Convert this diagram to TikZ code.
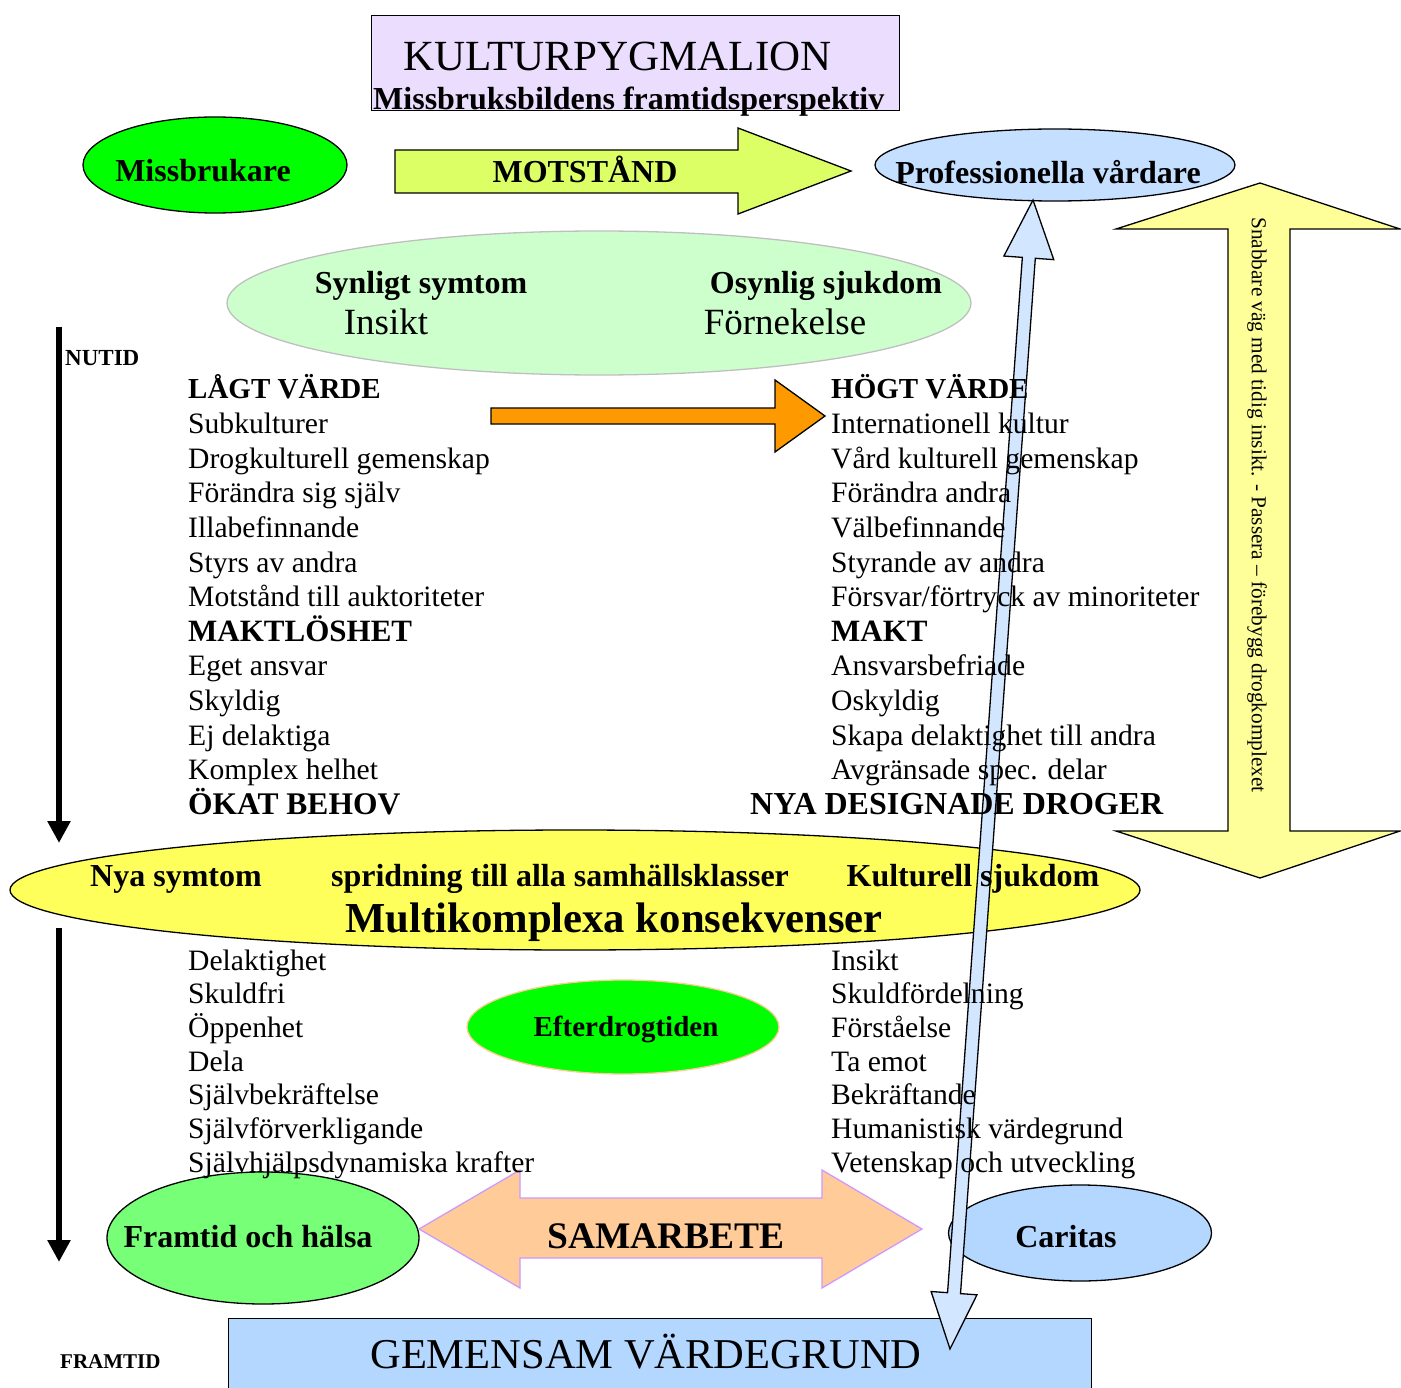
\documentclass[tikz,border=0pt]{standalone}
\usepackage{fontspec}
\setmainfont{Liberation Serif}
\usepackage{tikz}
\usetikzlibrary{
shapes.geometric,
arrows.meta,
calc,
positioning
}
\newcommand{\fsz}[1]{\fontsize{#1}{#1}\selectfont}
\definecolor{titel}{HTML}{EADDFE}
\definecolor{gron}{HTML}{00FF00}
\definecolor{ljusgron}{HTML}{77FF77}
\definecolor{motst}{HTML}{DDFF66}
\definecolor{prof}{HTML}{C4DFFF}
\definecolor{synl}{HTML}{CCFFCC}
\definecolor{orange}{HTML}{FF9900}
\definecolor{gulpil}{HTML}{FFFF99}
\definecolor{gulell}{HTML}{FFFF5C}
\definecolor{persika}{HTML}{FFCC99}
\definecolor{lila}{HTML}{CC99FF}
\definecolor{caritas}{HTML}{B3D7FF}
\definecolor{tunn}{HTML}{D3E6FF}
\tikzset{
  blob/.style={ellipse, draw=black, line width=1.3pt, inner sep=0pt},
  pil/.style={draw=black, line width=1.3pt, line join=miter},
  lbl/.style={anchor=base, inner sep=0pt, font=\bfseries\fsz{32}},
  item/.style={anchor=base west, inner sep=0pt, font=\fsz{29.6}},
  tid/.style={line width=6pt, -{Triangle[width=22pt,length=22pt]}}
}

\begin{document}
\begin{tikzpicture}[x=1pt,y=-1pt]
   \useasboundingbox (0,0) rectangle (1401,1388);

   % rubrik
   \node[draw, fill=titel, line width=1.3pt, anchor=north west,
         minimum width=528pt, minimum height=95pt] (titel) at (371,15) {};

   % ellipser
   \node[blob, fill=gron, minimum width=264pt, minimum height=96pt] (miss) at (215,165) {};
   \node[blob, fill=prof, minimum width=360pt, minimum height=72pt] (prof) at (1055,165) {};
   \node[blob, fill=synl, draw=black!25, minimum width=744pt, minimum height=144pt] (synl) at (599,303) {};
   \node[blob, fill=gulell, minimum width=1130pt, minimum height=120pt] (multi) at (575,890) {};
   \node[blob, fill=gron, draw=persika, minimum width=312pt, minimum height=94pt] (efter) at (623,1027) {};
   \node[blob, fill=ljusgron, minimum width=312pt, minimum height=132pt] (framt) at (263,1238) {};
   \node[blob, fill=caritas, minimum width=263pt, minimum height=96pt] (carit) at (1080,1233) {};
   \node[draw, fill=caritas, line width=1.3pt, anchor=north west,
         minimum width=863pt, minimum height=90pt] (gem) at (228,1318) {};

   % blockpilar
   \draw[pil, fill=motst] (395,150) -- (738,150) -- (738,128) -- (851,171)
        -- (738,214) -- (738,193) -- (395,193) -- cycle;
   \draw[pil, fill=orange] (491,408) -- (775,408) -- (775,380) -- (825,416)
        -- (775,452) -- (775,424) -- (491,424) -- cycle;
   \draw[pil, fill=persika, draw=lila] (419,1229) -- (520,1170) -- (520,1198)
        -- (822,1198) -- (822,1170) -- (922,1229) -- (822,1288) -- (822,1258)
        -- (520,1258) -- (520,1288) -- cycle;
   \draw[pil, fill=gulpil] (1260,183) -- (1400,229) -- (1290,229) -- (1290,831)
        -- (1400,831) -- (1260,878) -- (1116,831) -- (1228,831) -- (1228,229)
        -- (1116,229) -- cycle;

   % tidslinjer
   \coordinate (nu1) at (59,327);
   \coordinate (nu2) at (59,843);
   \coordinate (fr1) at (59,928);
   \coordinate (fr2) at (59,1262);
   \draw[tid] (nu1) -- (nu2);
   \draw[tid] (fr1) -- (fr2);

   % smal pil upp/ned
   \coordinate (upp) at (1033,200);
   \coordinate (ned) at (950,1349);
   \draw[pil, fill=tunn] (upp)
        -- ($(upp)!58pt!(ned)!25pt!90:(ned)$)
        -- ($(upp)!58pt!(ned)!6.5pt!90:(ned)$)
        -- ($(ned)!56pt!(upp)!6.5pt!-90:(upp)$)
        -- ($(ned)!56pt!(upp)!23pt!-90:(upp)$)
        -- (ned)
        -- ($(ned)!56pt!(upp)!23pt!90:(upp)$)
        -- ($(ned)!56pt!(upp)!6.5pt!90:(upp)$)
        -- ($(upp)!58pt!(ned)!6.5pt!-90:(ned)$)
        -- ($(upp)!58pt!(ned)!25pt!-90:(ned)$)
        -- cycle;

   % texter
   \node[anchor=base west, inner sep=0pt, font=\fsz{43}] (kp) at (403,71) {KULTURPYGMALION};
   \node[anchor=base west, inner sep=0pt, font=\bfseries\fsz{32}] (mbf) at (373,110) {Missbruksbildens framtidsperspektiv};
   \node[lbl] (tmiss) at (203,182) {Missbrukare};
   \node[lbl] (tmot) at (585,183) {MOTSTÅND};
   \node[lbl] (tprof) at (1048,184) {Professionella vårdare};
   \node[lbl] (tsyn) at (421,294) {Synligt symtom};
   \node[lbl] (tosy) at (826,294) {Osynlig sjukdom};
   \node[lbl, font=\fsz{37}] (tins) at (386,335) {Insikt};
   \node[lbl, font=\fsz{37}] (tforn) at (785,335) {Förnekelse};
   \node[anchor=base west, inner sep=0pt, font=\bfseries\fsz{23}] (nutid) at (65,366) {NUTID};
   \node[anchor=base west, inner sep=0pt, font=\bfseries\fsz{21}] (framtid) at (60,1368) {FRAMTID};

   \foreach \t [count=\i] in {{\bfseries\fsz{29}LÅGT VÄRDE}, Subkulturer, Drogkulturell gemenskap,
      Förändra sig själv, Illabefinnande, Styrs av andra, Motstånd till auktoriteter,
      {\bfseries\fsz{31}MAKTLÖSHET}, Eget ansvar, Skyldig, Ej delaktiga, Komplex helhet,
      {\bfseries\fsz{31.5}ÖKAT BEHOV}}
      \node[item] (v\i) at (188,{399+(\i-1)*34.6}) {\t};
   \foreach \t [count=\i] in {{\bfseries\fsz{29}HÖGT VÄRDE}, Internationell kultur, Vård kulturell gemenskap,
      Förändra andra, Välbefinnande, Styrande av andra, Försvar/förtryck av minoriteter,
      {\bfseries\fsz{31}MAKT}, Ansvarsbefriade, Oskyldig, Skapa delaktighet till andra,
      Avgränsade spec. delar}
      \node[item] (h\i) at (831,{399+(\i-1)*34.6}) {\t};
   \node[item, font=\bfseries\fsz{32}] (h13) at (750,814) {NYA DESIGNADE DROGER};

   \node[lbl] (tnya) at (176,886) {Nya symtom};
   \node[lbl] (tspr) at (560,886) {spridning till alla samhällsklasser};
   \node[lbl] (tkul) at (973,886) {Kulturell sjukdom};
   \node[lbl, font=\bfseries\fsz{42.7}] (tmul) at (614,932) {Multikomplexa konsekvenser};

   \foreach \t [count=\i] in {Delaktighet, Skuldfri, Öppenhet, Dela, Självbekräftelse,
      Självförverkligande, Självhjälpsdynamiska krafter}
      \node[item] (u\i) at (188,{970+(\i-1)*33.7}) {\t};
   \foreach \t [count=\i] in {Insikt, Skuldfördelning, Förståelse, Ta emot, Bekräftande,
      Humanistisk värdegrund, Vetenskap och utveckling}
      \node[item] (w\i) at (831,{970+(\i-1)*33.7}) {\t};

   \node[lbl, font=\bfseries\fsz{29}] (tefter) at (626,1036) {Efterdrogtiden};
   \node[lbl] (tframt) at (248,1247) {Framtid och hälsa};
   \node[lbl, font=\bfseries\fsz{37.5}] (tsam) at (666,1248) {SAMARBETE};
   \node[lbl] (tcar) at (1066,1247) {Caritas};
   \node[lbl, font=\fsz{42.5}] (tgem) at (646,1368) {GEMENSAM VÄRDEGRUND};
   \node[rotate=-90, inner sep=0pt, font=\fsz{21.3}] (snabb) at (1257,505)
      {Snabbare väg med tidig insikt. - Passera – förebygg drogkomplexet};
\end{tikzpicture}
\end{document}
